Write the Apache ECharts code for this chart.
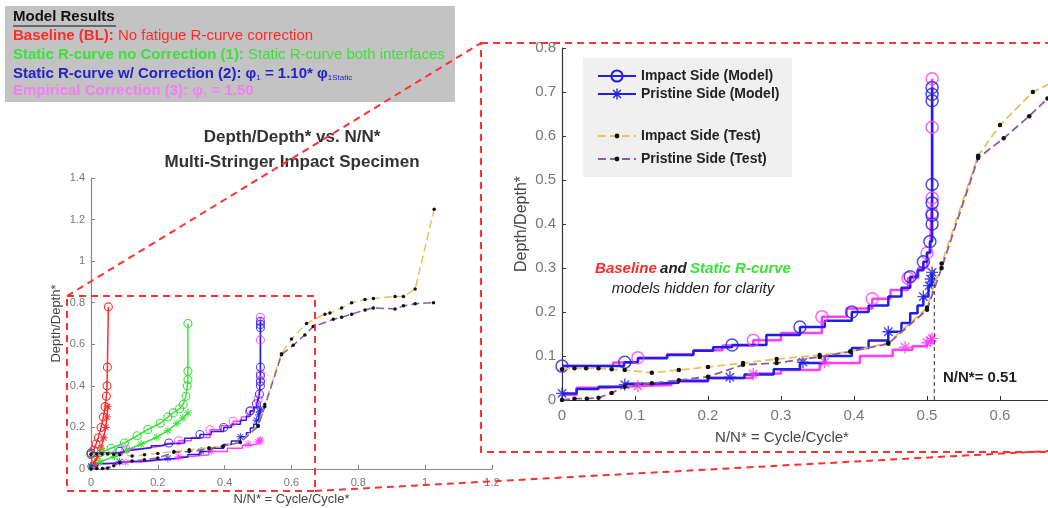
<!DOCTYPE html>
<html>
<head>
<meta charset="utf-8">
<script src="https://cdn.jsdelivr.net/npm/echarts@6.0.0/dist/echarts.min.js"></script>
<style>
  html, body { margin: 0; padding: 0; background: #fff; }
  #chart { width: 1048px; height: 508px; }
</style>
</head>
<body>
<div id="chart"></div>
<script>
// ---- data (x = N/N*, y = Depth/Depth*) ----
// Baseline (BL), small chart only
const blImpactX = [0, 0.008, 0.015, 0.022, 0.03, 0.037, 0.042, 0.046, 0.048, 0.049, 0.052];
const blImpactY = [0.07, 0.09, 0.12, 0.15, 0.2, 0.25, 0.3, 0.35, 0.4, 0.49, 0.78];
const blPristineX = [0, 0.01, 0.02, 0.03, 0.038, 0.044, 0.048, 0.05];
const blPristineY = [0.01, 0.03, 0.06, 0.1, 0.15, 0.2, 0.25, 0.3];

// Static R-curve no correction (1), small chart only
const s1ImpactX = [0, 0.03, 0.06, 0.1, 0.138, 0.17, 0.207, 0.23, 0.246, 0.265, 0.276, 0.284, 0.288, 0.29, 0.29, 0.29];
const s1ImpactY = [0.075, 0.08, 0.1, 0.125, 0.16, 0.19, 0.22, 0.25, 0.27, 0.29, 0.31, 0.35, 0.4, 0.43, 0.47, 0.7];
const s1PristineX = [0, 0.027, 0.07, 0.107, 0.15, 0.197, 0.23, 0.257, 0.275, 0.29];
const s1PristineY = [0.01, 0.034, 0.06, 0.09, 0.12, 0.153, 0.185, 0.22, 0.245, 0.27];

// Static R-curve w/ correction (2)
const s2ImpactX = [0, 0.06, 0.085, 0.104, 0.144, 0.18, 0.207, 0.233, 0.28, 0.326, 0.36, 0.397, 0.42, 0.447, 0.465, 0.477, 0.487, 0.495, 0.5, 0.504, 0.507, 0.507];
const s2ImpactY = [0.077, 0.077, 0.086, 0.095, 0.102, 0.112, 0.12, 0.125, 0.148, 0.166, 0.18, 0.2, 0.215, 0.235, 0.255, 0.28, 0.295, 0.314, 0.335, 0.36, 0.45, 0.71];
const s2ImpactMarkX = [0, 0.086, 0.233, 0.326, 0.397, 0.477, 0.495, 0.504, 0.507, 0.507, 0.507, 0.507, 0.507, 0.507, 0.507];
const s2ImpactMarkY = [0.077, 0.086, 0.125, 0.166, 0.2, 0.28, 0.314, 0.36, 0.4, 0.42, 0.448, 0.49, 0.68, 0.695, 0.71];
const s2PristineX = [0, 0.02, 0.05, 0.086, 0.12, 0.16, 0.2, 0.25, 0.29, 0.326, 0.36, 0.397, 0.42, 0.447, 0.465, 0.477, 0.487, 0.495, 0.502, 0.507];
const s2PristineY = [0.015, 0.025, 0.03, 0.037, 0.039, 0.044, 0.05, 0.058, 0.07, 0.084, 0.1, 0.118, 0.135, 0.155, 0.175, 0.197, 0.215, 0.235, 0.26, 0.29];
const s2PristineMarkX = [0, 0.086, 0.23, 0.33, 0.447, 0.495, 0.503, 0.505, 0.507];
const s2PristineMarkY = [0.015, 0.035, 0.052, 0.086, 0.155, 0.235, 0.26, 0.275, 0.29];

// Empirical correction (3)
const s3ImpactX = [0, 0.04, 0.07, 0.104, 0.144, 0.18, 0.22, 0.262, 0.3, 0.356, 0.39, 0.425, 0.45, 0.474, 0.488, 0.5, 0.505, 0.507, 0.507];
const s3ImpactY = [0.077, 0.077, 0.085, 0.096, 0.104, 0.113, 0.124, 0.136, 0.152, 0.189, 0.208, 0.23, 0.25, 0.277, 0.3, 0.334, 0.38, 0.46, 0.73];
const s3ImpactMarkX = [0.104, 0.262, 0.356, 0.425, 0.474, 0.5, 0.507, 0.507, 0.507, 0.507];
const s3ImpactMarkY = [0.096, 0.136, 0.189, 0.23, 0.277, 0.334, 0.425, 0.459, 0.62, 0.73];
const s3PristineX = [0, 0.02, 0.06, 0.104, 0.15, 0.2, 0.262, 0.3, 0.353, 0.408, 0.453, 0.48, 0.5, 0.507];
const s3PristineY = [0.012, 0.028, 0.032, 0.034, 0.042, 0.05, 0.06, 0.068, 0.084, 0.1, 0.114, 0.122, 0.132, 0.14];
const s3PristineMarkX = [0.104, 0.262, 0.36, 0.47, 0.5, 0.505, 0.507];
const s3PristineMarkY = [0.032, 0.059, 0.086, 0.12, 0.13, 0.135, 0.14];

// Test data
const testImpactX = [0, 0.017, 0.033, 0.05, 0.068, 0.086, 0.123, 0.16, 0.2, 0.248, 0.294, 0.353, 0.395, 0.447, 0.5, 0.52, 0.57, 0.6, 0.645, 0.7, 0.715, 0.75, 0.78, 0.82, 0.845, 0.91, 0.935, 0.97, 1.027];
const testImpactY = [0.07, 0.072, 0.072, 0.072, 0.07, 0.068, 0.062, 0.068, 0.075, 0.084, 0.093, 0.102, 0.11, 0.13, 0.21, 0.31, 0.555, 0.625, 0.7, 0.745, 0.75, 0.775, 0.8, 0.815, 0.82, 0.83, 0.83, 0.866, 1.25];
const testPristineX = [0, 0.017, 0.034, 0.05, 0.068, 0.086, 0.123, 0.16, 0.2, 0.248, 0.294, 0.353, 0.395, 0.447, 0.5, 0.52, 0.57, 0.605, 0.64, 0.665, 0.725, 0.75, 0.78, 0.82, 0.845, 0.91, 0.935, 0.97, 1.025];
const testPristineY = [0, 0.003, 0.003, 0.005, 0.016, 0.03, 0.038, 0.045, 0.053, 0.08, 0.084, 0.098, 0.11, 0.128, 0.205, 0.3, 0.55, 0.595, 0.645, 0.685, 0.72, 0.73, 0.745, 0.765, 0.775, 0.77, 0.785, 0.795, 0.8];

// N/N* = 0.51 guide
const guideX = [0.51, 0.51];
const guideY = [0, 0.3];

const RED = '#ff2b2b';
const GREEN = '#3ae23a';
const BLUE = '#1f1fe6';
const MAGENTA = '#ff3cff';
const TEST_IMP = '#e9c15c';
const TEST_PRI = '#8c5c9c';
const FONT = '"Liberation Sans", Arial, sans-serif';
// MATLAB-like '*' marker
const ASTERISK = 'path://M-1.2,-10L1.2,-10L1.2,10L-1.2,10Z M-10,-1.2L10,-1.2L10,1.2L-10,1.2Z M-7.85,-6.15L-6.15,-7.85L7.85,6.15L6.15,7.85Z M6.15,-7.85L7.85,-6.15L-6.15,7.85L-7.85,6.15Z';

const pairs = (xs, ys) => xs.map((x, i) => [x, ys[i]]);

function modelLine(name, xs, ys, color, marker, axis, big, step) {
  return {
    name: name, type: 'line', xAxisIndex: axis, yAxisIndex: axis,
    data: pairs(xs, ys), step: step ? 'end' : false,
    symbol: marker === 'o' ? 'circle' : ASTERISK,
    showSymbol: !step, symbolSize: big ? 12 : 8,
    itemStyle: marker === 'o'
      ? { color: 'rgba(0,0,0,0)', borderColor: color, borderWidth: big ? 1.5 : 1.1 }
      : { color: color },
    lineStyle: { color: color, width: big ? 2.5 : 1.5 },
    emphasis: { disabled: true }, z: 3
  };
}

function markers(name, xs, ys, color, marker, axis, big) {
  return {
    name: name, type: 'scatter', xAxisIndex: axis, yAxisIndex: axis,
    data: pairs(xs, ys),
    symbol: marker === 'o' ? 'circle' : ASTERISK,
    symbolSize: big ? 12 : 8,
    itemStyle: marker === 'o'
      ? { color: 'rgba(0,0,0,0)', borderColor: color, borderWidth: big ? 1.5 : 1.1 }
      : { color: color },
    emphasis: { disabled: true }, z: 4
  };
}

function testLine(name, xs, ys, color, axis, big) {
  return {
    name: name, type: 'line', xAxisIndex: axis, yAxisIndex: axis,
    data: pairs(xs, ys), symbol: 'circle', symbolSize: big ? 4.5 : 3.5,
    itemStyle: { color: '#111' },
    lineStyle: { color: color, width: big ? 1.8 : 1.5, type: [8, 4] },
    emphasis: { disabled: true }, z: 5
  };
}

function axis(grid, max, interval, fontSize, lineColor, extra) {
  return Object.assign({
    type: 'value', gridIndex: grid, min: 0, max: max, interval: interval,
    axisLine: { show: true, onZero: false, lineStyle: { color: lineColor, width: 1.2 } },
    axisTick: { show: true, inside: true, length: 4, lineStyle: { color: lineColor } },
    splitLine: { show: false },
    axisLabel: { fontSize: fontSize, color: '#777', fontFamily: FONT }
  }, extra);
}

const chart = echarts.init(document.getElementById('chart'));

chart.setOption({
  animation: false,
  backgroundColor: '#fff',
  title: {
    text: 'Depth/Depth* vs. N/N*\nMulti-Stringer Impact Specimen',
    left: 287, top: 120, textAlign: 'center',
    textStyle: { fontSize: 17, fontWeight: 'bold', color: '#333', fontFamily: FONT, lineHeight: 25 }
  },
  grid: [
    { left: 91, top: 178, width: 401, height: 291, outerBoundsMode: 'none', containLabel: false },
    { left: 562, top: 48, width: 511, height: 352, outerBoundsMode: 'none', containLabel: false }
  ],
  xAxis: [
    axis(0, 1.2, 0.2, 11, '#888', {
      name: 'N/N* = Cycle/Cycle*', nameLocation: 'middle', nameGap: 24,
      nameTextStyle: { fontSize: 13, color: '#444', fontFamily: FONT },
      axisLabel: { fontSize: 11, color: '#777', fontFamily: FONT, margin: 8 }
    }),
    axis(1, 0.7, 0.1, 15, '#333', {
      axisLabel: { fontSize: 15, color: '#777', fontFamily: FONT, margin: 8 }
    })
  ],
  yAxis: [
    axis(0, 1.4, 0.2, 11, '#888', {
      name: 'Depth/Depth*', nameLocation: 'middle', nameGap: 28,
      nameTextStyle: { fontSize: 13, color: '#444', fontFamily: FONT },
      axisLabel: { fontSize: 11, color: '#777', fontFamily: FONT, margin: 6 }
    }),
    axis(1, 0.8, 0.1, 15, '#333', {
      name: 'Depth/Depth*', nameLocation: 'middle', nameGap: 32,
      nameTextStyle: { fontSize: 16, color: '#444', fontFamily: FONT },
      axisLabel: { fontSize: 15, color: '#777', fontFamily: FONT, margin: 6 }
    })
  ],
  legend: [
    {
      data: ['Impact Side (Model)', 'Pristine Side (Model)'],
      left: 592, top: 64, orient: 'vertical', itemWidth: 38, itemHeight: 14, itemGap: 4,
      selectedMode: false,
      textStyle: { fontSize: 14, fontWeight: 'bold', color: '#222', fontFamily: FONT }
    },
    {
      data: ['Impact Side (Test)', 'Pristine Side (Test)'],
      left: 592, top: 124, orient: 'vertical', itemWidth: 38, itemHeight: 6, itemGap: 9,
      selectedMode: false,
      textStyle: { fontSize: 14, fontWeight: 'bold', color: '#222', fontFamily: FONT }
    }
  ],
  series: [
    // overview (left)
    testLine('Test impact (overview)', testImpactX, testImpactY, TEST_IMP, 0, false),
    testLine('Test pristine (overview)', testPristineX, testPristineY, TEST_PRI, 0, false),
    modelLine('BL impact', blImpactX, blImpactY, RED, 'o', 0, false, false),
    modelLine('BL pristine', blPristineX, blPristineY, RED, '*', 0, false, false),
    modelLine('(1) impact', s1ImpactX, s1ImpactY, GREEN, 'o', 0, false, false),
    modelLine('(1) pristine', s1PristineX, s1PristineY, GREEN, '*', 0, false, false),
    modelLine('(3) impact', s3ImpactX, s3ImpactY, MAGENTA, 'o', 0, false, true),
    markers('(3) impact marks', s3ImpactMarkX, s3ImpactMarkY, MAGENTA, 'o', 0, false),
    modelLine('(3) pristine', s3PristineX, s3PristineY, MAGENTA, '*', 0, false, true),
    markers('(3) pristine marks', s3PristineMarkX, s3PristineMarkY, MAGENTA, '*', 0, false),
    modelLine('(2) impact', s2ImpactX, s2ImpactY, BLUE, 'o', 0, false, true),
    markers('(2) impact marks', s2ImpactMarkX, s2ImpactMarkY, BLUE, 'o', 0, false),
    modelLine('(2) pristine', s2PristineX, s2PristineY, BLUE, '*', 0, false, true),
    markers('(2) pristine marks', s2PristineMarkX, s2PristineMarkY, BLUE, '*', 0, false),

    // zoomed view (right)
    modelLine('Impact Side (Emp.)', s3ImpactX, s3ImpactY, MAGENTA, 'o', 1, true, true),
    markers('Impact Side (Emp.) marks', s3ImpactMarkX, s3ImpactMarkY, MAGENTA, 'o', 1, true),
    modelLine('Pristine Side (Emp.)', s3PristineX, s3PristineY, MAGENTA, '*', 1, true, true),
    markers('Pristine Side (Emp.) marks', s3PristineMarkX, s3PristineMarkY, MAGENTA, '*', 1, true),
    modelLine('Impact Side (Model)', s2ImpactX, s2ImpactY, BLUE, 'o', 1, true, true),
    markers('Impact Side (Model) marks', s2ImpactMarkX, s2ImpactMarkY, BLUE, 'o', 1, true),
    modelLine('Pristine Side (Model)', s2PristineX, s2PristineY, BLUE, '*', 1, true, true),
    markers('Pristine Side (Model) marks', s2PristineMarkX, s2PristineMarkY, BLUE, '*', 1, true),
    testLine('Impact Side (Test)', testImpactX, testImpactY, TEST_IMP, 1, true),
    testLine('Pristine Side (Test)', testPristineX, testPristineY, TEST_PRI, 1, true),
    {
      name: 'N/N* = 0.51', type: 'line', xAxisIndex: 1, yAxisIndex: 1,
      data: pairs(guideX, guideY), symbol: 'none',
      lineStyle: { color: '#333', width: 1, type: [4, 3] }, z: 6
    }
  ],
  graphic: [
    // model results key
    { type: 'rect', shape: { x: 5, y: 6, width: 450, height: 96 }, style: { fill: '#c3c3c3' }, z: 0 },
    { type: 'text', x: 13, y: 17, style: { text: 'Model Results', fill: '#111', font: 'bold 15px ' + FONT, verticalAlign: 'middle' } },
    { type: 'line', shape: { x1: 13, y1: 26, x2: 116, y2: 26 }, style: { stroke: '#111', lineWidth: 1.2 } },
    { type: 'text', x: 13, y: 36, style: {
      text: '{b|Baseline (BL):}{n| No fatigue R-curve correction}', verticalAlign: 'middle',
      rich: { b: { fill: RED, fontWeight: 'bold', fontSize: 15, fontFamily: FONT }, n: { fill: RED, fontSize: 15, fontFamily: FONT } } } },
    { type: 'text', x: 13, y: 55, style: {
      text: '{b|Static R-curve no Correction (1):}{n| Static R-curve both interfaces}', verticalAlign: 'middle',
      rich: { b: { fill: GREEN, fontWeight: 'bold', fontSize: 15, fontFamily: FONT }, n: { fill: GREEN, fontSize: 15, fontFamily: FONT } } } },
    { type: 'text', x: 13, y: 74, style: {
      text: '{b|Static R-curve w/ Correction (2): φ}{s|1}{b| = 1.10* φ}{s|1Static}', verticalAlign: 'middle',
      rich: { b: { fill: '#2323c8', fontWeight: 'bold', fontSize: 15, fontFamily: FONT },
              s: { fill: '#2323c8', fontSize: 8, fontFamily: FONT, verticalAlign: 'bottom' } } } },
    { type: 'text', x: 13, y: 91, style: {
      text: '{b|Empirical Correction (3): φ}{s|1}{b| = 1.50}', verticalAlign: 'middle',
      rich: { b: { fill: '#f27ff2', fontWeight: 'bold', fontSize: 15, fontFamily: FONT },
              s: { fill: '#f27ff2', fontSize: 8, fontFamily: FONT, verticalAlign: 'bottom' } } } },

    // zoom legend background
    { type: 'rect', shape: { x: 583, y: 58, width: 209, height: 119 }, style: { fill: '#f0f0f0' }, z: 0 },

    // zoomed axis title and notes
    { type: 'text', x: 782, y: 438, style: { text: 'N/N* = Cycle/Cycle*', fill: '#444', font: '15px ' + FONT, align: 'center', verticalAlign: 'middle' } },
    { type: 'text', x: 693, y: 269, style: {
      text: '{r|Baseline} {k|and} {g|Static R-curve}', align: 'center', verticalAlign: 'middle',
      rich: { r: { fill: RED, fontWeight: 'bold', fontStyle: 'italic', fontSize: 15, fontFamily: FONT },
              k: { fill: '#222', fontWeight: 'bold', fontStyle: 'italic', fontSize: 15, fontFamily: FONT },
              g: { fill: GREEN, fontWeight: 'bold', fontStyle: 'italic', fontSize: 15, fontFamily: FONT } } } },
    { type: 'text', x: 693, y: 289, style: { text: 'models hidden for clarity', fill: '#222', font: 'italic 15px ' + FONT, align: 'center', verticalAlign: 'middle' } },
    { type: 'text', x: 943, y: 378, style: { text: 'N/N*= 0.51', fill: '#222', font: 'bold 15px ' + FONT, verticalAlign: 'middle' } },

    // zoom frames and connectors
    { type: 'rect', shape: { x: 67, y: 296, width: 248, height: 195 }, style: { fill: 'none', stroke: '#ff3030', lineWidth: 2, lineDash: [7, 5] }, z: 100 },
    { type: 'rect', shape: { x: 481, y: 43, width: 600, height: 409 }, style: { fill: 'none', stroke: '#ff3030', lineWidth: 2, lineDash: [7, 5] }, z: 100 },
    { type: 'line', shape: { x1: 67, y1: 296, x2: 481, y2: 43 }, style: { stroke: '#ff3030', lineWidth: 2, lineDash: [7, 5] }, z: 100 },
    { type: 'line', shape: { x1: 315, y1: 491, x2: 1048, y2: 451 }, style: { stroke: '#ff3030', lineWidth: 2, lineDash: [7, 5] }, z: 100 }
  ]
});
</script>
</body>
</html>
